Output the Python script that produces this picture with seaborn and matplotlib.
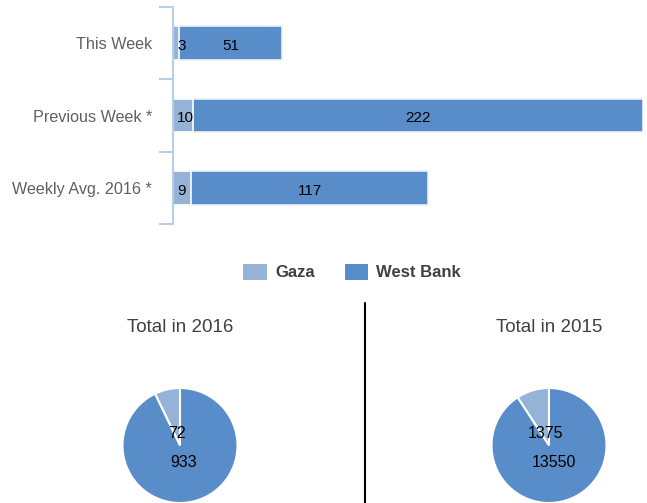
import numpy as np
import pandas as pd
import matplotlib
matplotlib.use("Agg")
import matplotlib.pyplot as plt
from matplotlib.lines import Line2D
from matplotlib.patches import Patch
import seaborn as sns

# ---- data ----
categories = ["This Week", "Previous Week *", "Weekly Avg. 2016 *"]
gaza = [3, 10, 9]
west_bank = [51, 222, 117]

pie_titles = ["Total in 2016", "Total in 2015"]
pie_gaza = [72, 1375]
pie_west_bank = [933, 13550]

series_names = ["Gaza", "West Bank"]
GAZA_C = "#95B3D7"
WB_C = "#588DC9"

sns.set_style("white")
plt.rcParams["font.family"] = ["Liberation Sans", "DejaVu Sans"]

W, H = 647, 503
fig = plt.figure(figsize=(W / 100, H / 100), dpi=100)

# ---- stacked bar chart ----
ax = fig.add_axes([173 / W, 1 - 224 / H, 470 / W, 217 / H])
df = pd.DataFrame({"cat": categories, "gaza": gaza, "wb": west_bank})
df["total"] = df["gaza"] + df["wb"]
sns.barplot(data=df, y="cat", x="total", color=WB_C, saturation=1, width=0.47,
            edgecolor="#EAF0F8", linewidth=1.2, ax=ax, orient="h")
sns.barplot(data=df, y="cat", x="gaza", color=GAZA_C, saturation=1, width=0.47,
            edgecolor="white", linewidth=1.2, ax=ax, orient="h")
ax.set_xlim(0, df["total"].max())
ax.set_ylim(len(categories) - 0.5, -0.5)
ax.set_xlabel("")
ax.set_ylabel("")
ax.set_xticks([])
for s in ["top", "right", "bottom"]:
    ax.spines[s].set_visible(False)
ax.spines["left"].set_color("#B9CDE5")
ax.spines["left"].set_linewidth(1.5)
ax.set_yticks(range(len(categories)))
ax.set_yticklabels(categories, fontsize=11.6, color="#606060")
ax.set_yticks(np.arange(-0.5, len(categories), 1.0), minor=True)
ax.tick_params(axis="y", which="major", length=0, pad=15)
ax.tick_params(axis="y", which="minor", length=10, width=1.5, color="#B9CDE5", left=True)

for i, (g, w) in enumerate(zip(gaza, west_bank)):
    ax.annotate(str(g), (0, i), xytext=(3, -2), textcoords="offset points",
                ha="left", va="center", fontsize=11, color="black")
    ax.annotate(str(w), (g + w / 2, i), xytext=(0, -2), textcoords="offset points",
                ha="center", va="center", fontsize=11, color="black")

# ---- legend ----
handles = [Patch(facecolor=GAZA_C, edgecolor="none"), Patch(facecolor=WB_C, edgecolor="none")]
fig.legend(handles, series_names, loc="center", bbox_to_anchor=(352 / W, 1 - 272 / H),
           ncol=2, frameon=False, handlelength=1.4, handleheight=1.1,
           handletextpad=0.5, columnspacing=1.8,
           prop={"weight": "bold", "size": 12}, labelcolor="#404040")

# ---- pies ----
centers_x = [180, 549]
R = 57.5
cy = 445.5
for k in range(2):
    cx = centers_x[k]
    pax = fig.add_axes([(cx - R) / W, (H - cy - R) / H, 2 * R / W, 2 * R / H])
    vals = [pie_gaza[k], pie_west_bank[k]]
    tot = sum(vals)
    wedges, texts, autotexts = pax.pie(
        vals, colors=[GAZA_C, WB_C], startangle=90, counterclock=True,
        wedgeprops=dict(edgecolor="white", linewidth=1.5),
        autopct=lambda p, t=tot: f"{int(round(p * t / 100))}",
        pctdistance=0.26, textprops=dict(fontsize=11.5, color="black"))
    for t, d in zip(autotexts, [0.21, 0.31]):
        x, y = t.get_position()
        r = np.hypot(x, y)
        t.set_position((x / r * d, y / r * d))
    pax.set_xlim(-1, 1)
    pax.set_ylim(-1, 1)
    pax.set_aspect("equal")
    pax.axis("off")
    fig.text(cx / W, 1 - 327 / H, pie_titles[k], ha="center", va="center",
             fontsize=13.5, color="#404040")

fig.add_artist(Line2D([365 / W, 365 / W], [0, 1 - 303 / H], color="black",
                      linewidth=1.5, transform=fig.transFigure))

fig.savefig("out.png", dpi=100)
